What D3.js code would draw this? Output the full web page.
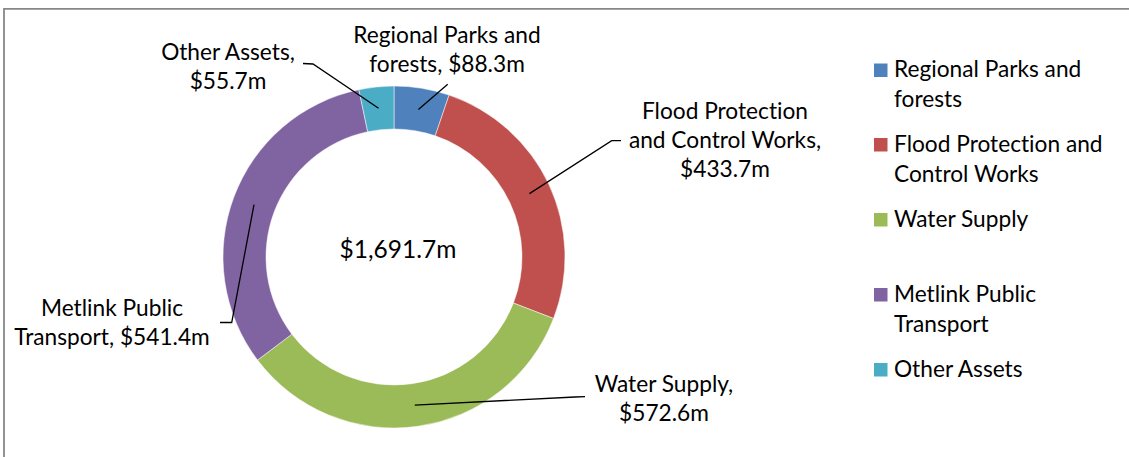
<!DOCTYPE html>
<html>
<head>
<meta charset="utf-8">
<script src="https://cdn.jsdelivr.net/npm/d3@7"></script>
<style>
  html, body { margin: 0; padding: 0; background: #fff; }
  svg { display: block; }
  text { font-family: Lato, "Liberation Sans", sans-serif; fill: #000; font-variant-ligatures: none; font-feature-settings: "liga" 0, "clig" 0; }
</style>
</head>
<body>
<svg id="chart" width="1129" height="457"></svg>
<script>
// ---- data ----
const categories = ["Regional Parks and forests", "Flood Protection and Control Works", "Water Supply", "Metlink Public Transport", "Other Assets"];
const values = [88.3, 433.7, 572.6, 541.4, 55.7];
const colors = ["#4F81BD", "#C0504D", "#9BBB59", "#8064A2", "#4BACC6"];
const dataLabels = [
  ["Regional Parks and", "forests, $88.3m"],
  ["Flood Protection", "and Control Works,", "$433.7m"],
  ["Water Supply,", "$572.6m"],
  ["Metlink Public", "Transport, $541.4m"],
  ["Other Assets,", "$55.7m"]
];
const legendLabels = [
  ["Regional Parks and", "forests"],
  ["Flood Protection and", "Control Works"],
  ["Water Supply"],
  ["Metlink Public", "Transport"],
  ["Other Assets"]
];
const totalLabel = "$1,691.7m";

// ---- layout (annotation positions, not data) ----
const cx = 394, cy = 257, rOuter = 171, rInner = 128;
const labelFont = 22.7, lineH = 29;
// label block: center x, first baseline y; leader elbow points
const labelLayout = [
  { x: 447, y: 43,  elbow: [[447.7, 84.3]] },
  { x: 725, y: 119, elbow: [[611.7, 140.7], [621, 140.7]] },
  { x: 664, y: 392, elbow: [[575, 397], [585, 396.7]] },
  { x: 112, y: 316, elbow: [[231.7, 322.5], [220, 322.5]] },
  { x: 228, y: 60,  elbow: [[313, 64], [303, 63.5]] }
];
const legendLayout = { x: 874, textX: 894, sq: 13.5, rows: [77, 151.5, 226.5, 301.5, 376.5] };

const svg = d3.select("#chart");

// frame
svg.append("path")
  .attr("d", "M4,457 L4,8.8 L1129,8.8")
  .attr("fill", "none").attr("stroke", "#888").attr("stroke-width", 1.8);

const pie = d3.pie().sort(null).value(d => d)(values);
const arc = d3.arc().innerRadius(rInner).outerRadius(rOuter);
const midArc = d3.arc().innerRadius((rInner + rOuter) / 2).outerRadius((rInner + rOuter) / 2);

const g = svg.append("g").attr("transform", `translate(${cx},${cy})`);
g.selectAll("path.slice").data(pie).join("path")
  .attr("class", "slice")
  .attr("d", arc)
  .attr("fill", (d, i) => colors[i])
  .attr("stroke", "#fff").attr("stroke-width", 0.5);

// leader lines
pie.forEach((d, i) => {
  const c = midArc.centroid(d);
  const pts = [[cx + c[0], cy + c[1]]].concat(labelLayout[i].elbow);
  svg.append("path")
    .attr("d", d3.line()(pts))
    .attr("fill", "none").attr("stroke", "#000").attr("stroke-width", 1.3);
});

// data labels
dataLabels.forEach((lines, i) => {
  const t = svg.append("text")
    .attr("text-anchor", "middle")
    .attr("font-size", labelFont);
  lines.forEach((s, j) => {
    t.append("tspan").attr("x", labelLayout[i].x).attr("y", labelLayout[i].y + j * lineH).text(s);
  });
});

// center total
svg.append("text")
  .attr("x", cx + 4).attr("y", cy + 1)
  .attr("text-anchor", "middle")
  .attr("font-size", 24.5)
  .text(totalLabel);

// legend
legendLabels.forEach((lines, i) => {
  const by = legendLayout.rows[i];
  svg.append("rect")
    .attr("x", legendLayout.x).attr("y", by - legendLayout.sq)
    .attr("width", legendLayout.sq).attr("height", legendLayout.sq)
    .attr("fill", colors[i]);
  const t = svg.append("text").attr("font-size", labelFont);
  lines.forEach((s, j) => {
    t.append("tspan").attr("x", legendLayout.textX).attr("y", by + j * 30).text(s);
  });
});
</script>
</body>
</html>
